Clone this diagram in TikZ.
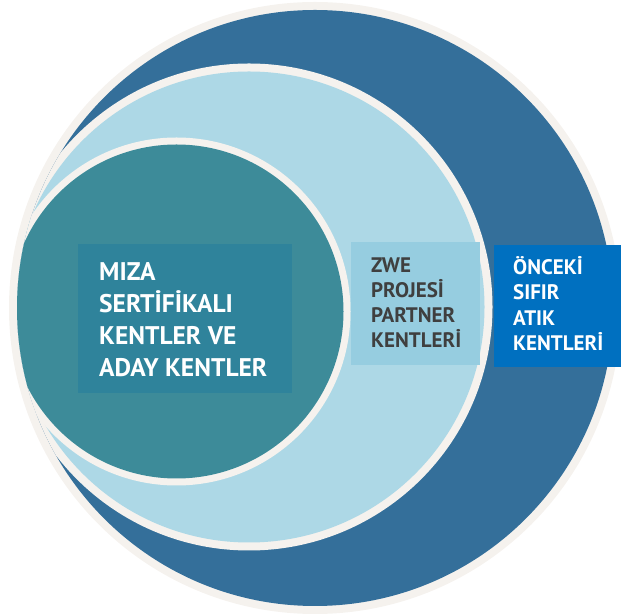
\documentclass[tikz,border=0pt]{standalone}
\usepackage{fontspec}
\setmainfont{PT Sans}
\usetikzlibrary{positioning}

\definecolor{krem}{HTML}{F5F2EE}
\definecolor{koyumavi}{HTML}{346F9A}
\definecolor{acikmavi}{HTML}{ADD8E6}
\definecolor{turkuaz}{HTML}{3D8B99}
\definecolor{kutubir}{HTML}{2F839B}
\definecolor{kutuiki}{HTML}{96CDE0}
\definecolor{kutuuc}{HTML}{0070C0}
\definecolor{koyugri}{HTML}{3F3F3F}

\begin{document}
\begin{tikzpicture}[x=1pt,y=1pt,
    kutu/.style={fill=#1, inner sep=0pt, anchor=south west},
    yazi/.style={anchor=base west, align=left, inner sep=0pt}]
        % Ic ice gecen kent halkalari
        \useasboundingbox (0,0) rectangle (623,615);
        \fill[krem] (315,307) circle (306);
        \fill[koyumavi] (315,307) circle (298);
        \begin{scope}
            \clip (315,307) circle (298);
            \fill[krem] (249,308) circle (243.5);
            \fill[acikmavi] (249,308) circle (235.5);
            \fill[krem] (176.5,303.5) circle (174);
            \fill[turkuaz] (176.5,303.5) circle (167);
        \end{scope}

        \node[kutu=kutubir, minimum width=214, minimum height=149] (kutuA) at (78,222) {};
        \node[kutu=kutuiki, minimum width=129, minimum height=123] (kutuB) at (351,250) {};
        \node[kutu=kutuuc, minimum width=127, minimum height=122] (kutuC) at (494,248) {};

        \node[yazi, text=white, font=\bfseries\fontsize{25.5}{32}\selectfont] (miza) at (99,238)
            {MIZA\\SERTİFİKALI\\KENTLER VE\\ADAY KENTLER};
        \node[yazi, text=koyugri, font=\bfseries\fontsize{21}{25}\selectfont] (zwe) at (371,267)
            {ZWE\\PROJESİ\\PARTNER\\KENTLERİ};
        \node[yazi, text=white, font=\bfseries\fontsize{21}{25.5}\selectfont] (onceki) at (513,264)
            {ÖNCEKİ\\SIFIR\\ATIK\\KENTLERİ};
    \end{tikzpicture}
\end{document}
